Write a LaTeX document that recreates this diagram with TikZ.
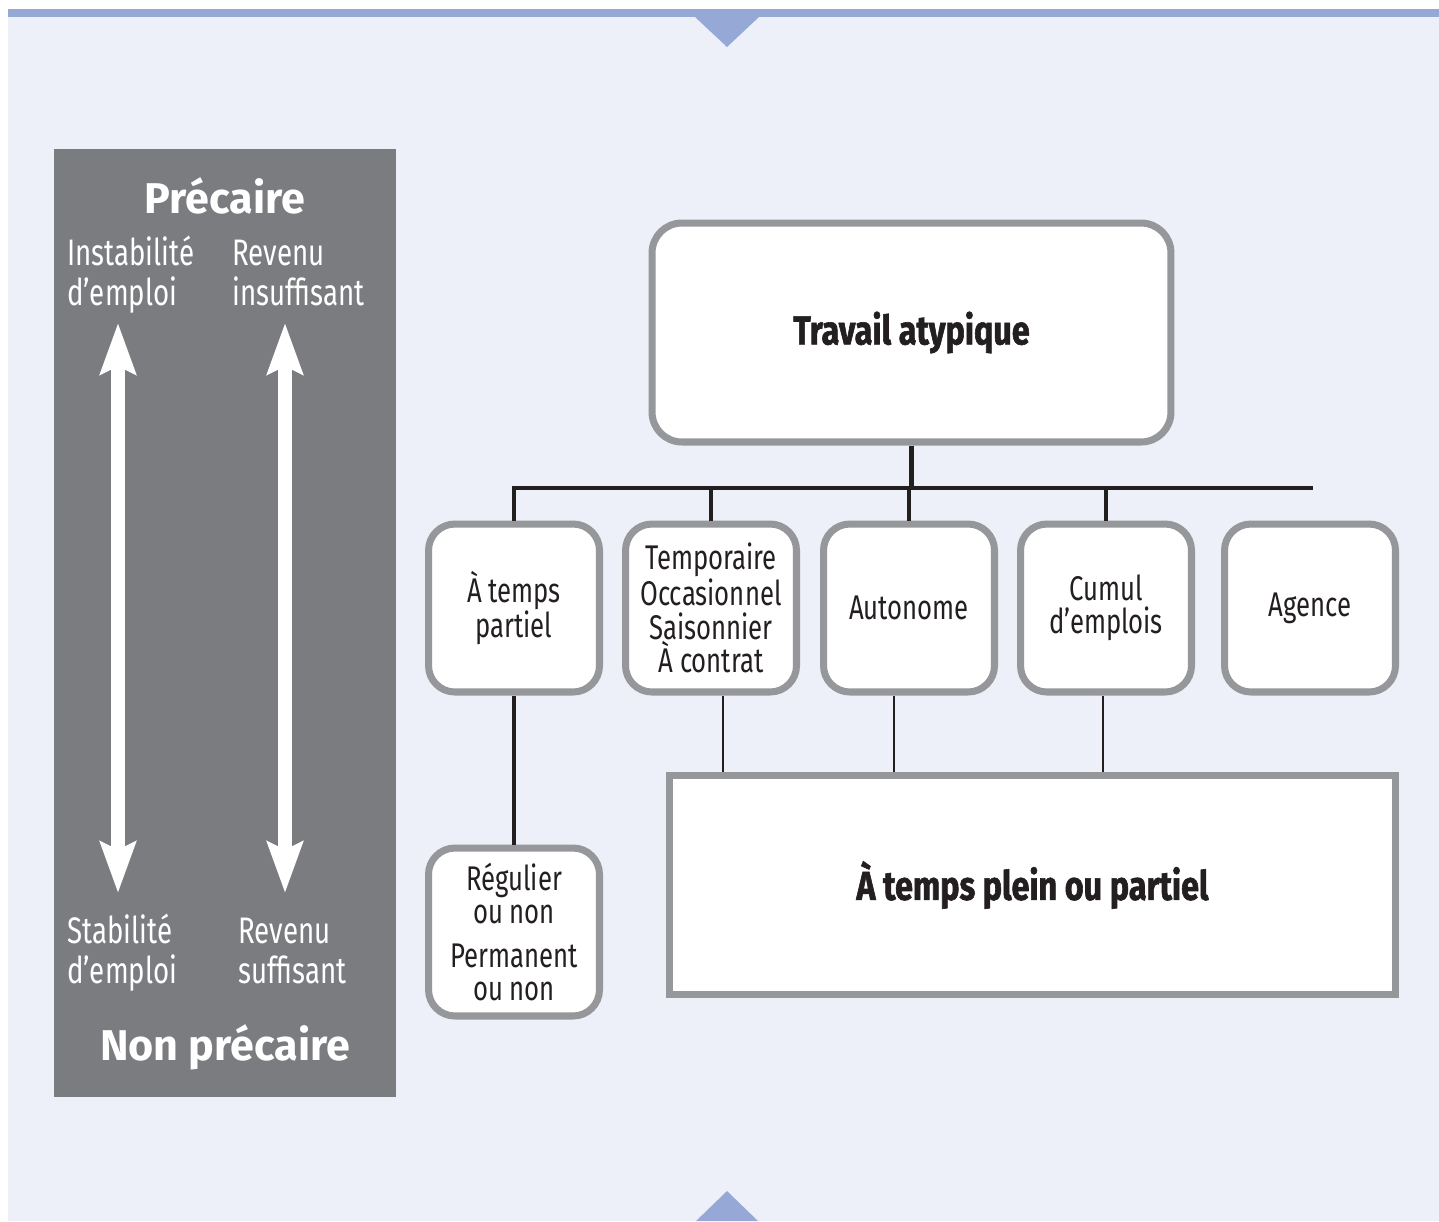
\documentclass[tikz,border=0pt]{standalone}
\usepackage{fontspec}
\setmainfont{Fira Sans}
\newfontfamily\condfont[FakeStretch=0.75]{Fira Sans}
\newfontfamily\blackfont[FakeStretch=0.8,BoldFeatures={FakeBold=1.5}]{Fira Sans}
\usetikzlibrary{arrows.meta}
\definecolor{bgpale}{RGB}{237,240,249}
\definecolor{barblue}{RGB}{150,168,214}
\definecolor{panelgray}{RGB}{123,124,128}
\definecolor{rimgray}{RGB}{150,151,155}
\definecolor{inkblack}{RGB}{35,31,32}
\tikzset{
  catbox/.style ={rectangle, rounded corners=15pt, draw=rimgray, fill=white, line width=4pt,
                minimum width=3.42cm, minimum height=3.36cm, align=center, inner sep=2pt,
                text=inkblack, font=\condfont\fontsize{19.5}{19}\selectfont},
  titlebox/.style ={catbox, rounded corners=17pt, minimum width=10.38cm, minimum height=4.38cm,
                font=\blackfont\bfseries\fontsize{23}{26}\selectfont},
  bigbox/.style ={titlebox, sharp corners, minimum width=14.52cm},
  bus/.style ={draw=inkblack, line width=2.8pt},
  tie/.style ={draw=inkblack, line width=1.4pt},
  scalearrow/.style ={{Stealth[length=29pt,width=20pt,inset=4.5pt]}-{Stealth[length=29pt,width=20pt,inset=4.5pt]},
                draw=white, line width=7.9pt},
  paneltext/.style ={text=white, align=left, anchor=base west, inner sep=0pt,
                font=\condfont\fontsize{21}{22.5}\selectfont},
  panelhead/.style ={text=white, anchor=base, inner sep=0pt, font=\bfseries\fontsize{24.5}{28}\selectfont},
}

\begin{document}
\begin{tikzpicture}[x=0.02cm,y=-0.02cm]
\useasboundingbox (0,0) rectangle (1439,1221);
% backdrop and the two blue notches
\fill[white] (0,0) rectangle (1439,1221);
\fill[bgpale] (8,10) rectangle (1439,1221);
\fill[barblue] (8,9) rectangle (1439,17);
\fill[barblue] (695,17) -- (759,17) -- (727,47) -- cycle;
\fill[barblue] (696,1221) -- (727,1191) -- (758,1221) -- cycle;

% left panel
\fill[panelgray] (54,149) rectangle (396,1097);
\node[panelhead] (prec) at (225,213) {Précaire};
\node[paneltext] (instab) at (67,305) {Instabilité\\d’emploi};
\node[paneltext] (revinsuf) at (232,305) {Revenu\\insuffisant};
\node[paneltext] (stab) at (67,983) {Stabilité\\d’emploi};
\node[paneltext] (revsuf) at (238,983) {Revenu\\suffisant};
\node[panelhead] (nonprec) at (225,1060) {Non précaire};
\coordinate (emtop) at (118,323);
\coordinate (embot) at (118,893);
\coordinate (rvtop) at (285,323);
\coordinate (rvbot) at (285,893);
\draw[scalearrow] (emtop) -- (embot);
\draw[scalearrow] (rvtop) -- (rvbot);

% tree
\node[titlebox] (atyp) at (911.5,332.5) {Travail atypique};
\node[catbox] (partiel) at (514,608) {À temps\\partiel};
\node[catbox] (temp) at (711,608) {Temporaire\\Occasionnel\\Saisonnier\\À contrat};
\node[catbox] (auto) at (909,608) {Autonome};
\node[catbox] (cumul) at (1106,608) {Cumul\\d’emplois};
\node[catbox] (agence) at (1310,608) {Agence};
\node[catbox] (regul) at (514,932) {Régulier\\ou non\\[6pt]Permanent\\ou non};
\node[bigbox] (plein) at (1032.5,885) {À temps plein ou partiel};

\coordinate (busR) at (1313,488);
\draw[bus] (partiel.north) |- (busR);
\draw[bus] (atyp.south) -- (atyp.south |- busR);
\foreach \b in {temp,auto,cumul} \draw[bus] (\b.north) -- (\b.north |- busR);
\draw[bus] (partiel.south) -- (regul.north);
\coordinate (t1) at (723,0);
\coordinate (t2) at (894,0);
\coordinate (t3) at (1103,0);
\draw[tie] (temp.south -| t1) -- (plein.north -| t1);
\draw[tie] (auto.south -| t2) -- (plein.north -| t2);
\draw[tie] (cumul.south -| t3) -- (plein.north -| t3);
\end{tikzpicture}
\end{document}
